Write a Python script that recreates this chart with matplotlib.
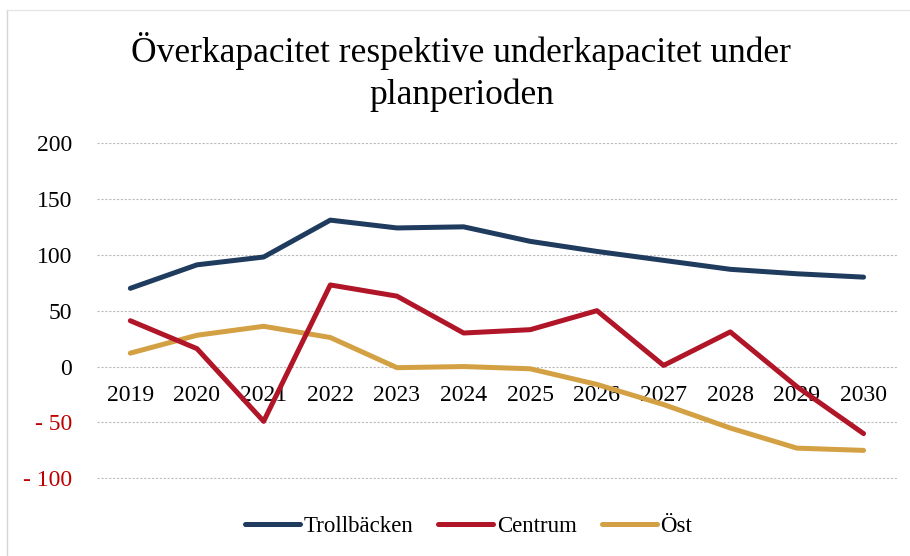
import numpy as np
import matplotlib
matplotlib.use("Agg")
import matplotlib.pyplot as plt
from matplotlib.ticker import FuncFormatter
from matplotlib.lines import Line2D

years = ["2019", "2020", "2021", "2022", "2023", "2024",
         "2025", "2026", "2027", "2028", "2029", "2030"]
trollbacken = [70, 91, 98, 131, 124, 125, 112, 103, 95, 87, 83, 80]
centrum = [41, 16, -49, 73, 63, 30, 33, 50, 1, 31, -18, -60]
ost = [12, 28, 36, 26, -1, 0, -2, -16, -34, -55, -73, -75]

yticks = [-100, -50, 0, 50, 100, 150, 200]

plt.rcParams['font.family'] = ['Liberation Serif', 'DejaVu Serif']

fig = plt.figure(figsize=(9.10, 5.56), dpi=100)
ax = fig.add_axes([0.1066, 0.1385, 0.879, 0.6043])

# faint chart border from the scan (left and top edges)
fig.add_artist(Line2D([0.008, 0.008], [0.0, 0.982], transform=fig.transFigure,
                      color="#d4d4d4", lw=1))
fig.add_artist(Line2D([0.008, 1.0], [0.982, 0.982], transform=fig.transFigure,
                      color="#e6e6e6", lw=1))

x = np.arange(len(years))
ax.plot(x, trollbacken, color="#1f3b5e", lw=3.6, solid_capstyle="round",
        label="Trollbäcken", zorder=4)
ax.plot(x, centrum, color="#b01528", lw=3.6, solid_capstyle="round",
        label="Centrum", zorder=3)
ax.plot(x, ost, color="#d3a043", lw=3.6, solid_capstyle="round",
        label="Öst", zorder=2)

ax.set_xlim(-0.5, len(years) - 0.5)
ax.set_ylim(-100.6, 200)
ax.set_yticks(yticks)
ax.yaxis.set_major_formatter(FuncFormatter(
    lambda v, p: "- %d" % abs(v) if v < 0 else "%d" % v))
for lab, v in zip(ax.get_yticklabels(), yticks):
    if v < 0:
        lab.set_color("#c00000")
ax.tick_params(axis="y", length=0, pad=18, labelsize=17)
ax.grid(axis="y", color="#bbbbbb", lw=0.8, ls=(0, (2, 1.5)))
ax.set_axisbelow(True)

ax.set_xticks(x)
ax.set_xticklabels(years)
ax.spines["bottom"].set_position(("data", 0))
ax.tick_params(axis="x", length=0, pad=13, labelsize=17)
for s in ax.spines.values():
    s.set_color("none")

fig.text(0.507, 0.908, "Överkapacitet respektive underkapacitet under",
         ha="center", va="center", fontsize=25.5)
fig.text(0.507, 0.828, "planperioden", ha="center", va="center", fontsize=25.5)

leg = fig.legend(loc="center", bbox_to_anchor=(0.515, 0.053), ncol=3,
                 frameon=False, fontsize=16.5, handlelength=2.4,
                 handletextpad=0.15, columnspacing=1.1)

fig.savefig("out.png", dpi=100)
